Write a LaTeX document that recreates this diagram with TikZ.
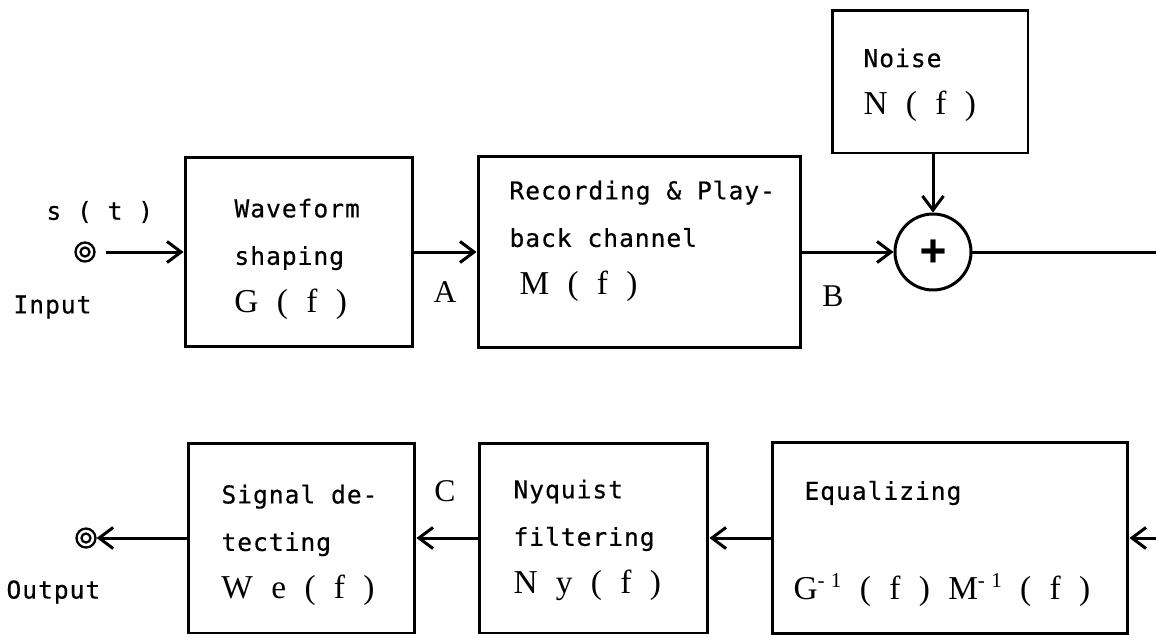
\documentclass[tikz,border=0pt]{standalone}
\usepackage{fontspec}
\usetikzlibrary{arrows.meta}
\newfontfamily\gothic{DejaVu Sans Mono}[LetterSpace=4, FakeBold=0.5]
\newfontfamily\mincho{Liberation Serif}[LetterSpace=30]
% transfer function in the serif face, e.g. \fnof{G} -> G ( f )
\newcommand\fnof[1]{{\mincho\fontsize{19}{27}\selectfont #1 ( f )}}
\newcommand\inv{\raisebox{7pt}{\fontsize{12}{12}\selectfont -1}}
\begin{document}
\begin{tikzpicture}[x=0.02cm, y=-0.02cm, line width=1.7pt,
    >={Straight Barb[length=8pt,width=12pt]},
    blk/.style 2 args={draw, inner sep=0pt, minimum width=#1cm, minimum height=#2cm},
    txt/.style={anchor=west, align=left, inner sep=0pt,
      font=\gothic\fontsize{14}{27}\selectfont},
    lab/.style={inner sep=0pt, font=\mincho\fontsize{18}{18}\selectfont},
    term/.style={circle, draw, inner sep=0pt, minimum size=0.38cm, line width=1.3pt}]
  \useasboundingbox (0,0) rectangle (1156,637);

  % upper row: shaping, channel, noise added
  \node[blk={4.56}{3.8}] (wave) at (299,252) {};
  \node[blk={6.46}{3.82}] (chan) at (639.5,252) {};
  \node[blk={3.92}{2.86}] (noise) at (930,81.5) {};
  \node[circle, draw, inner sep=0pt, minimum size=1.52cm,
    font=\gothic\bfseries\fontsize{24}{24}\selectfont] (sum) at (933,252) {+};

  \node[txt] (wavetxt) at (233,259) {Waveform\\shaping\\\fnof{G}};
  \node[txt] (chantxt) at (508,241) {Recording \& Play-\\back channel\\\hspace{5.7pt}\fnof{M}};
  \node[txt] (noisetxt) at (862,85) {Noise\\\fnof{N}};

  \node[term] (in) at (85,252) {};
  \draw[line width=1.3pt] (in.center) circle[radius=4.5];
  \node[txt] (sig) at (45,212) {s ( t )};
  \node[txt] (intxt) at (12,307) {Input};
  \node[lab] (labA) at (445,292) {A};
  \node[lab] (labB) at (833,296) {B};

  % lower row: equalizer, Nyquist filter, detector
  \node[blk={7.12}{3.82}] (equal) at (950,538) {};
  \node[blk={4.58}{3.8}] (nyq) at (593.5,538) {};
  \node[blk={4.54}{3.8}] (detect) at (301.5,538) {};

  \node[txt] (equaltxt) at (803,493) {Equalizing};
  \node[txt] (invtxt) at (792,590)
    {{\mincho\fontsize{19}{27}\selectfont G\inv\ ( f ) M\inv\ ( f )}};
  \node[txt] (nyqtxt) at (512,540) {Nyquist\\filtering\\\fnof{N y}};
  \node[txt] (detecttxt) at (220,545) {Signal de-\\tecting\\\fnof{W e}};

  \node[term] (out) at (86,538) {};
  \draw[line width=1.3pt] (out.center) circle[radius=4.5];
  \node[txt] (outtxt) at (5,592) {Output};
  \node[lab] (labC) at (445,491) {C};

  \coordinate (endR) at (1156,252);
  \coordinate (startR) at (1156,538);

  \draw[->, shorten <=6pt] (in) -- (wave);
  \draw[->] (wave) -- (chan);
  \draw[->] (chan) -- (sum);
  \draw[->] (sum |- noise.south) -- (sum);
  \draw (sum) -- (endR);
  \draw[->] (startR) -- (equal);
  \draw[->] (equal) -- (nyq);
  \draw[->] (nyq) -- (detect);
  \draw[->] (detect) -- (out);
\end{tikzpicture}
\end{document}
